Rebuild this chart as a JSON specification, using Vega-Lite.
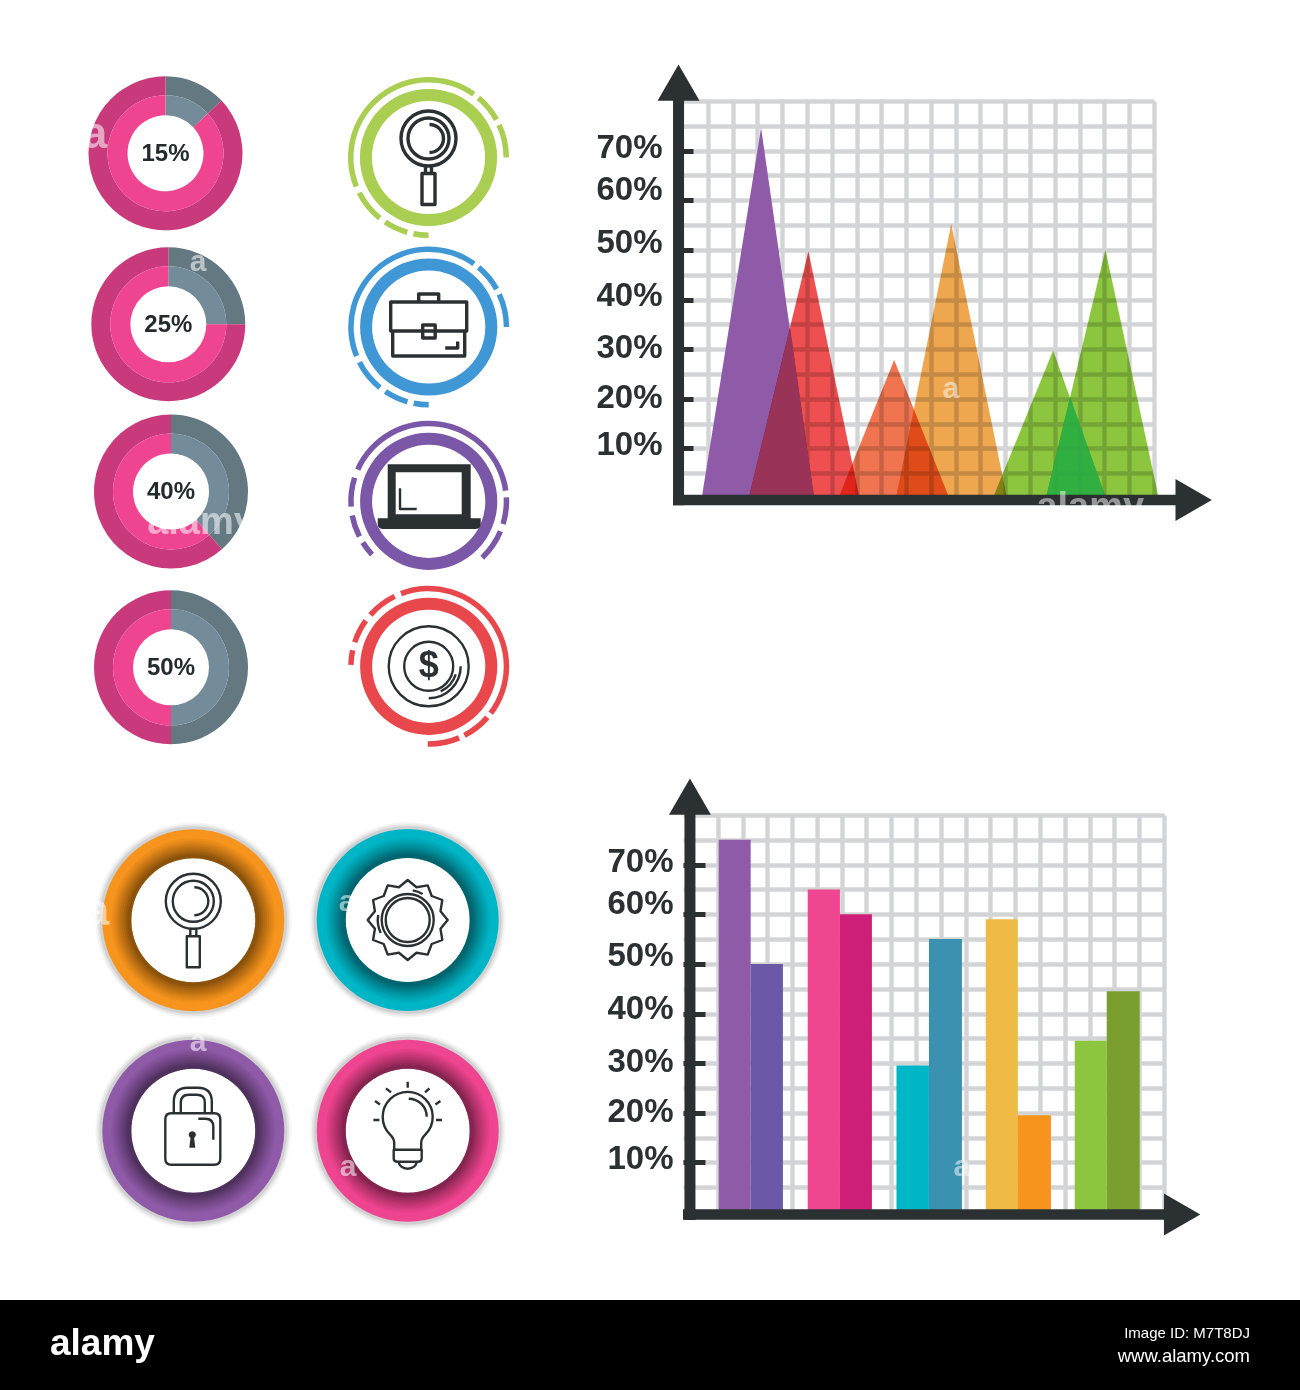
{
"$schema":"https://vega.github.io/schema/vega-lite/v6.json",
"padding":0,
"background":"#ffffff",
"spacing":0,
"bounds":"flush",
"columns":2,
"align":"each",
"resolve":{"scale":{"color":"independent","shape":"independent"}},
"config":{"view":{"stroke":null},"concat":{"spacing":0},"text":{"font":"Liberation Sans"}},
"datasets":{
"donuts":[{"label":"15%","x":16.55,"y":15.4},{"label":"25%","x":16.83,"y":32.5},{"label":"40%","x":17.1,"y":49.2},{"label":"50%","x":17.1,"y":66.8}],
"segments":[
{"donut":"15%","seg":"share","x":16.55,"y":15.33,"start":0,"end":13},{"donut":"15%","seg":"rest","x":16.55,"y":15.33,"start":13,"end":100},
{"donut":"25%","seg":"share","x":16.83,"y":32.43,"start":0,"end":25},{"donut":"25%","seg":"rest","x":16.83,"y":32.43,"start":25,"end":100},
{"donut":"40%","seg":"share","x":17.1,"y":49.15,"start":0,"end":38.5},{"donut":"40%","seg":"rest","x":17.1,"y":49.15,"start":38.5,"end":100},
{"donut":"50%","seg":"share","x":17.1,"y":66.73,"start":0,"end":50},{"donut":"50%","seg":"rest","x":17.1,"y":66.73,"start":50,"end":100}],
"rings":[{"topic":"green","x":42.85,"y":15.75,"start":0,"end":100},{"topic":"blue","x":42.87,"y":32.7,"start":0,"end":100},{"topic":"violet","x":42.87,"y":50.13,"start":0,"end":100},{"topic":"red","x":42.87,"y":66.63,"start":0,"end":100}],
"dashes":[
{"topic":"green","x":42.85,"y":15.75,"start":-31.1,"end":9.9},{"topic":"green","x":42.85,"y":15.75,"start":11.1,"end":16.9},{"topic":"green","x":42.85,"y":15.75,"start":18.1,"end":25},{"topic":"green","x":42.85,"y":15.75,"start":50,"end":53.1},{"topic":"green","x":42.85,"y":15.75,"start":54.4,"end":59.4},{"topic":"green","x":42.85,"y":15.75,"start":60.8,"end":67.5},
{"topic":"blue","x":42.87,"y":32.7,"start":-31.1,"end":9.9},{"topic":"blue","x":42.87,"y":32.7,"start":11.1,"end":16.9},{"topic":"blue","x":42.87,"y":32.7,"start":18.1,"end":25},{"topic":"blue","x":42.87,"y":32.7,"start":50,"end":53.1},{"topic":"blue","x":42.87,"y":32.7,"start":54.4,"end":59.4},{"topic":"blue","x":42.87,"y":32.7,"start":60.8,"end":67.5},
{"topic":"violet","x":42.87,"y":50.13,"start":-18.3,"end":22.8},{"topic":"violet","x":42.87,"y":50.13,"start":24.2,"end":29.7},{"topic":"violet","x":42.87,"y":50.13,"start":31.3,"end":37.9},{"topic":"violet","x":42.87,"y":50.13,"start":63,"end":66.1},{"topic":"violet","x":42.87,"y":50.13,"start":67.5,"end":72.1},{"topic":"violet","x":42.87,"y":50.13,"start":73.9,"end":79.9},
{"topic":"red","x":42.87,"y":66.63,"start":-5.8,"end":35.3},{"topic":"red","x":42.87,"y":66.63,"start":36.4,"end":42.4},{"topic":"red","x":42.87,"y":66.63,"start":43.6,"end":50.2},{"topic":"red","x":42.87,"y":66.63,"start":-13.5,"end":-7.2},{"topic":"red","x":42.87,"y":66.63,"start":-20,"end":-15},{"topic":"red","x":42.87,"y":66.63,"start":-24.7,"end":-21.7}],
"circles":[{"topic":"orange","x":19.33,"y":92.03},{"topic":"teal","x":40.77,"y":92},{"topic":"purple","x":19.33,"y":113.07},{"topic":"pink","x":40.77,"y":113.07}],
"icons":[{"icon":"lens","x":42.85,"y":15.75},{"icon":"case","x":42.87,"y":32.7},{"icon":"laptop","x":42.87,"y":50.13},{"icon":"coin","x":42.87,"y":66.63},{"icon":"lens","x":19.33,"y":92.03},{"icon":"gear","x":40.77,"y":92},{"icon":"lock","x":19.33,"y":113.07},{"icon":"bulb","x":40.77,"y":113.07}],
"marks":[{"t":"alamy","x":20.1,"y":52.3,"s":38},{"t":"a","x":19.8,"y":26.2,"s":30},{"t":"a","x":9.5,"y":13.5,"s":44},{"t":"a","x":19.8,"y":104.2,"s":30},{"t":"a","x":34.7,"y":90.2,"s":30},{"t":"a","x":34.8,"y":116.7,"s":30},{"t":"a","x":9.7,"y":91.2,"s":44}],
"footer":[{"t":"alamy","x":5,"y":134.4,"s":37,"a":"left"},{"t":"Image ID: M7T8DJ","x":125,"y":133.3,"s":15,"a":"right"},{"t":"www.alamy.com","x":125,"y":135.6,"s":18.5,"a":"right"}],
"peaks":[
{"peak":"purple","x":0.755,"y":0},{"peak":"purple","x":3.15,"y":74.6},{"peak":"purple","x":5.29,"y":0},
{"peak":"red","x":2.65,"y":0},{"peak":"red","x":5.06,"y":49.7},{"peak":"red","x":7.12,"y":0},
{"peak":"coral","x":6.27,"y":0},{"peak":"coral","x":8.52,"y":27.8},{"peak":"coral","x":10.74,"y":0},
{"peak":"amber","x":8.59,"y":0},{"peak":"amber","x":10.82,"y":55.2},{"peak":"amber","x":13.07,"y":0},
{"peak":"green1","x":12.5,"y":0},{"peak":"green1","x":14.93,"y":29.7},{"peak":"green1","x":17.06,"y":0},
{"peak":"green2","x":14.64,"y":0},{"peak":"green2","x":17.04,"y":50},{"peak":"green2","x":19.19,"y":0},
{"peak":"overlapA","x":2.65,"y":0},{"peak":"overlapA","x":4.32,"y":34.3},{"peak":"overlapA","x":5.29,"y":0},
{"peak":"overlapB","x":14.64,"y":0},{"peak":"overlapB","x":15.62,"y":20.4},{"peak":"overlapB","x":17.06,"y":0}],
"bars":[
{"series":"a1","x":1.04,"x2":2.33,"v":75},{"series":"a2","x":2.33,"x2":3.63,"v":50},
{"series":"b1","x":4.63,"x2":5.93,"v":65},{"series":"b2","x":5.93,"x2":7.22,"v":60},
{"series":"c1","x":8.21,"x2":9.52,"v":29.5},{"series":"c2","x":9.52,"x2":10.85,"v":55},
{"series":"d1","x":11.81,"x2":13.1,"v":59},{"series":"d2","x":13.1,"x2":14.44,"v":19.5},
{"series":"e1","x":15.4,"x2":16.69,"v":34.5},{"series":"e2","x":16.69,"x2":18.02,"v":44.5}]
},
"concat":[
{"width":683,"height":101,
 "encoding":{"x":{"field":"x","type":"quantitative","scale":{"domain":[0,68.3]},"axis":null},"y":{"field":"y","type":"quantitative","scale":{"domain":[10.1,0]},"axis":null}},
 "layer":[
 {"data":{"values":[{"x":0,"x2":130,"y":130,"y2":139}]},"mark":{"type":"rect","color":"#000000"},"encoding":{"x2":{"field":"x2"},"y2":{"field":"y2"}}},
 {"data":{"name":"footer"},"transform":[{"filter":"datum.a=='left'"}],"mark":{"type":"text","align":"left","color":"#ffffff","fontWeight":"bold"},"encoding":{"text":{"field":"t"},"size":{"field":"s","type":"quantitative","scale":null}}},
 {"data":{"name":"footer"},"transform":[{"filter":"datum.a=='right'"}],"mark":{"type":"text","align":"right","color":"#ffffff"},"encoding":{"text":{"field":"t"},"size":{"field":"s","type":"quantitative","scale":null}}},
 {"data":{"name":"segments"},"mark":{"type":"arc","radius":77,"radius2":58},"encoding":{"theta":{"field":"start","type":"quantitative","stack":null,"scale":{"domain":[0,100],"range":[0,6.28319]}},"theta2":{"field":"end"},"color":{"condition":{"test":"datum.seg=='share'","value":"#647882"},"value":"#C93A7D"}}},
 {"data":{"name":"segments"},"mark":{"type":"arc","radius":58,"radius2":38},"encoding":{"theta":{"field":"start","type":"quantitative","stack":null},"theta2":{"field":"end"},"color":{"condition":{"test":"datum.seg=='share'","value":"#748B99"},"value":"#EF4490"}}},
 {"data":{"name":"donuts"},"mark":{"type":"text","fontSize":24,"fontWeight":"bold","color":"#232B2E"},"encoding":{"text":{"field":"label"}}},
 {"data":{"name":"dashes"},"mark":{"type":"arc","radius":80.5,"radius2":75},"encoding":{"theta":{"field":"start","type":"quantitative","stack":null},"theta2":{"field":"end"},"color":{"field":"topic","type":"nominal","legend":null,"scale":{"domain":["green","blue","violet","red","orange","teal","purple","pink"],"range":["#A9CE52","#3F97D5","#7B57A8","#E8474C","#F7941D","#00B5C5","#8F5AA8","#EF4490"]}}}},
 {"data":{"name":"rings"},"mark":{"type":"arc","radius":68.6,"radius2":56.6},"encoding":{"theta":{"field":"start","type":"quantitative","stack":null},"theta2":{"field":"end"},"color":{"field":"topic","type":"nominal","legend":null}}},
 {"data":{"name":"circles"},"mark":{"type":"arc","radius":98,"radius2":62,"theta":0,"theta2":6.28319,"color":"#000000","opacity":0.04}},
 {"data":{"name":"circles"},"mark":{"type":"arc","radius":96,"radius2":62,"theta":0,"theta2":6.28319,"color":"#000000","opacity":0.06}},
 {"data":{"name":"circles"},"mark":{"type":"arc","radius":94,"radius2":62,"theta":0,"theta2":6.28319,"color":"#000000","opacity":0.09}},
 {"data":{"name":"circles"},"mark":{"type":"arc","radius":91,"radius2":62,"theta":0,"theta2":6.28319},"encoding":{"color":{"field":"topic","type":"nominal","legend":null}}},
 {"data":{"name":"circles"},"mark":{"type":"arc","radius":82,"radius2":62,"theta":0,"theta2":6.28319,"color":"#000000","opacity":0.04}},
 {"data":{"name":"circles"},"mark":{"type":"arc","radius":80,"radius2":62,"theta":0,"theta2":6.28319,"color":"#000000","opacity":0.04}},
 {"data":{"name":"circles"},"mark":{"type":"arc","radius":78,"radius2":62,"theta":0,"theta2":6.28319,"color":"#000000","opacity":0.05}},
 {"data":{"name":"circles"},"mark":{"type":"arc","radius":76,"radius2":62,"theta":0,"theta2":6.28319,"color":"#000000","opacity":0.05}},
 {"data":{"name":"circles"},"mark":{"type":"arc","radius":74,"radius2":62,"theta":0,"theta2":6.28319,"color":"#000000","opacity":0.06}},
 {"data":{"name":"circles"},"mark":{"type":"arc","radius":72,"radius2":62,"theta":0,"theta2":6.28319,"color":"#000000","opacity":0.06}},
 {"data":{"name":"circles"},"mark":{"type":"arc","radius":70,"radius2":62,"theta":0,"theta2":6.28319,"color":"#000000","opacity":0.07}},
 {"data":{"name":"circles"},"mark":{"type":"arc","radius":68,"radius2":62,"theta":0,"theta2":6.28319,"color":"#000000","opacity":0.08}},
 {"data":{"name":"circles"},"mark":{"type":"arc","radius":66,"radius2":62,"theta":0,"theta2":6.28319,"color":"#000000","opacity":0.09}},
 {"data":{"name":"icons"},"transform":[{"filter":"datum.icon=='laptop'"}],"mark":{"type":"point","size":4,"filled":true,"opacity":1,"color":"#2B3133","strokeWidth":0,"shape":"M-41 -37 H42 V17 H-41 Z M-33 -29 V13 H33 V-29 Z M-51 17 H52 V22 Q52 27.7 47 27.7 H-46 Q-51 27.7 -51 22 Z"}},
 {"data":{"name":"icons"},"transform":[{"filter":"datum.icon=='lock'"}],"mark":{"type":"point","size":4,"filled":true,"opacity":1,"color":"#2B3133","strokeWidth":0,"shape":"M-1 0.5 A3.6 3.6 0 0 1 0.8 7.2 L2 17 H-4 L-2.8 7.2 A3.6 3.6 0 0 1 -1 0.5 Z"}},
 {"data":{"name":"icons"},"mark":{"type":"point","size":4,"filled":false,"opacity":1,"color":"#2B3133","strokeJoin":"round","strokeCap":"butt"},
  "encoding":{"strokeWidth":{"condition":[{"test":"datum.y<50 && datum.icon!='laptop'","value":3.4}],"value":2.4},
  "shape":{"field":"icon","type":"nominal","legend":null,"scale":{"domain":["lens","case","laptop","coin","gear","lock","bulb"],"range":[
   "M-27.5 -19 A27.5 27.5 0 1 1 27.5 -19 A27.5 27.5 0 1 1 -27.5 -19 Z M-20.5 -19 A20.5 20.5 0 1 1 20.5 -19 A20.5 20.5 0 1 1 -20.5 -19 Z M1 -33 A14 14 0 0 1 1 -5 M-3 8.5 V16 M3 8.5 V16 M-6.5 16 H6.5 V47 H-6.5 Z",
   "M-38 -25 H38 V4 H-38 Z M-36 4 V29 H36 V4 M-10 -25 V-33 H10 V-25 M-6 -2 H6.5 V11 H-6 Z M16.5 21 H29 V14.5",
   "M-28.7 -13 V7.7 H-12",
   "M-40 0 A40 40 0 1 1 40 0 A40 40 0 1 1 -40 0 Z M-24.5 0 A24.5 24.5 0 1 1 24.5 0 A24.5 24.5 0 1 1 -24.5 0 Z M0 32 A32 32 0 0 0 32 0 M12 25 A28 28 0 0 0 27 8",
   "M0 -40 L8.8 -32.8 L20 -34.6 L24 -24 L34.6 -20 L32.8 -8.8 L40 0 L32.8 8.8 L34.6 20 L24 24 L20 34.6 L8.8 32.8 L0 40 L-8.8 32.8 L-20 34.6 L-24 24 L-34.6 20 L-32.8 8.8 L-40 0 L-32.8 -8.8 L-34.6 -20 L-24 -24 L-20 -34.6 L-8.8 -32.8 Z M-22 0 A22 22 0 1 1 22 0 A22 22 0 1 1 -22 0 Z M-26 0 A26 26 0 1 1 26 0 A26 26 0 1 1 -26 0 Z M5 -29.6 A30 30 0 0 1 15 -26 M-29.5 -5 A30 30 0 0 0 -27 13",
   "M-22 -17.5 H21 Q27 -17.5 27 -11.5 V28 Q27 34 21 34 H-22 Q-28 34 -28 28 V-11.5 Q-28 -17.5 -22 -17.5 Z M-19.5 -17.5 V-29 Q-19.5 -43 -5.5 -43 H4.5 Q18.5 -43 18.5 -29 V-17.5 M-12.5 -17.5 V-28 Q-12.5 -36 -4.5 -36 H3.5 Q11.5 -36 11.5 -28 V-17.5 M5 -12 H12 Q20 -12 20 -4 V9",
   "M-13.5 19 V12 Q-13.5 8 -18 3.5 A25 25 0 1 1 18 3.5 Q13.5 8 13.5 12 V19 M-14 19 H14 V28 Q14 31 10 31 H-10 Q-14 31 -14 28 Z M-9 31 A9 7 0 0 0 9 31 M1 -32 A18 18 0 0 1 19 -14 M0 -49 V-43 M-21.7 -42.3 L-16.7 -38.3 M21.7 -42.3 L17.3 -38.3 M-32.7 -29.7 L-27.7 -26.3 M32.7 -29.7 L27.7 -26.3 M-34.3 -10.7 H-28.3 M34.3 -10.7 H28.3"
  ]}}}},
 {"data":{"name":"icons"},"transform":[{"filter":"datum.icon=='coin'"}],"mark":{"type":"text","text":"$","fontWeight":"bold","fontSize":36,"color":"#2B3133"}},
 {"data":{"name":"marks"},"mark":{"type":"text","fontWeight":"bold","color":"#ffffff","opacity":0.55},"encoding":{"text":{"field":"t"},"size":{"field":"s","type":"quantitative","scale":null}}}
 ]},
{"width":481,"height":101,"data":{"values":[{"a":1}]},"mark":{"type":"point","opacity":0}},
{"width":683,"height":397,"data":{"values":[{"a":1}]},"mark":{"type":"point","opacity":0}},
{"width":471,"height":397,
   "encoding":{"x":{"field":"x","type":"quantitative","scale":{"domain":[0,19]},"axis":{"values":[1,2,3,4,5,6,7,8,9,10,11,12,13,14,15,16,17,18,19],"grid":true,"gridColor":"#D3D4D6","gridWidth":4.4,"labels":false,"ticks":false,"domain":false,"title":null}},
   "y":{"field":"y","type":"quantitative","stack":null,"scale":{"domain":[0,80]},"axis":{"values":[5,10,15,20,25,30,35,40,45,50,55,60,65,70,75,80],"grid":true,"gridColor":"#D3D4D6","gridWidth":4.4,"domain":false,"title":null,"tickColor":"#2B3133","tickWidth":5,"tickSize":-10,"tickOpacity":{"condition":{"test":"datum.value%10==0 && datum.value<80","value":1},"value":0},"labelExpr":"datum.value%10==0 && datum.value<80 ? datum.value+'%' : ''","labelFont":"Liberation Sans","labelFontWeight":"bold","labelFontSize":33,"labelColor":"#2B3133","labelPadding":31,"labelOverlap":false,"labelBound":false,"labelFlush":false,"labelOffset":{"condition":[{"test":"datum.value==70","value":-3},{"test":"datum.value==60","value":-11},{"test":"datum.value==50","value":-7},{"test":"datum.value==30","value":-2},{"test":"datum.value==20","value":-1}],"value":-4}}}},
   "layer":[
   {"data":{"name":"peaks"},"transform":[{"filter":"datum.peak=='purple'"}],"mark":{"type":"area","color":"#8F5AA8","opacity":1}},
   {"data":{"name":"peaks"},"transform":[{"filter":"datum.peak=='red'"}],"mark":{"type":"area","color":"#EE4F50","opacity":1,"blend":"multiply"}},
   {"data":{"name":"peaks"},"transform":[{"filter":"datum.peak=='overlapA'"}],"mark":{"type":"area","color":"#9A3358","opacity":1}},
   {"data":{"name":"peaks"},"transform":[{"filter":"datum.peak=='coral'"}],"mark":{"type":"area","color":"#F0744F","opacity":1,"blend":"multiply"}},
   {"data":{"name":"peaks"},"transform":[{"filter":"datum.peak=='amber'"}],"mark":{"type":"area","color":"#EEA64F","opacity":1,"blend":"multiply"}},
   {"data":{"name":"peaks"},"transform":[{"filter":"datum.peak=='green1'"}],"mark":{"type":"area","color":"#8CC63F","opacity":1,"blend":"multiply"}},
   {"data":{"name":"peaks"},"transform":[{"filter":"datum.peak=='green2'"}],"mark":{"type":"area","color":"#8CC63F","opacity":1,"blend":"multiply"}},
   {"data":{"name":"peaks"},"transform":[{"filter":"datum.peak=='overlapB'"}],"mark":{"type":"area","color":"#2DB34A","opacity":0.85}},
   {"data":{"values":[{"x":-0.18,"y":83.7}]},"mark":{"type":"point","shape":"triangle-up","size":1764,"filled":true,"opacity":1,"color":"#2B3133","strokeWidth":0}},
   {"data":{"values":[{"x":20.6,"y":-0.4}]},"mark":{"type":"point","shape":"triangle-right","size":1764,"filled":true,"opacity":1,"color":"#2B3133","strokeWidth":0}},
   {"data":{"values":[{"x":-0.18,"y":-1.47,"y2":81}]},"mark":{"type":"rule","color":"#2B3133","strokeWidth":11},"encoding":{"y2":{"field":"y2"}}},
   {"data":{"values":[{"x":-0.4,"x2":20,"y":-0.4}]},"mark":{"type":"rule","color":"#2B3133","strokeWidth":10.6},"encoding":{"x2":{"field":"x2"}}},
   {"data":{"values":[{"t":"a","x":10.8,"y":22,"s":30},{"t":"alamy","x":16.43,"y":-2,"s":38}]},"mark":{"type":"text","fontWeight":"bold","color":"#ffffff","opacity":0.5},"encoding":{"text":{"field":"t"},"size":{"field":"s","type":"quantitative","scale":null}}}
   ]},
{"width":683,"height":317,"data":{"values":[{"a":1}]},"mark":{"type":"point","opacity":0}},
{"width":481,"height":317,"data":{"values":[{"a":1}]},"mark":{"type":"point","opacity":0}},
{"width":683,"height":397,"data":{"values":[{"a":1}]},"mark":{"type":"point","opacity":0}},
{"width":481,"height":397,
   "encoding":{"x":{"field":"x","type":"quantitative","scale":{"domain":[-0.4,19]},"axis":{"values":[1,2,3,4,5,6,7,8,9,10,11,12,13,14,15,16,17,18,19],"grid":true,"gridColor":"#D3D4D6","gridWidth":4.4,"labels":false,"ticks":false,"domain":false,"title":null}},
   "y":{"field":"y","type":"quantitative","stack":null,"scale":{"domain":[0,80]},"axis":{"values":[5,10,15,20,25,30,35,40,45,50,55,60,65,70,75,80],"grid":true,"gridColor":"#D3D4D6","gridWidth":4.4,"domain":false,"title":null,"tickColor":"#2B3133","tickWidth":5,"tickSize":-22,"tickOpacity":{"condition":{"test":"datum.value%10==0 && datum.value<80","value":1},"value":0},"labelExpr":"datum.value%10==0 && datum.value<80 ? datum.value+'%' : ''","labelFont":"Liberation Sans","labelFontWeight":"bold","labelFontSize":33,"labelColor":"#2B3133","labelPadding":32,"labelOverlap":false,"labelBound":false,"labelFlush":false,"labelOffset":{"condition":[{"test":"datum.value==70","value":-3},{"test":"datum.value==60","value":-11},{"test":"datum.value==50","value":-8},{"test":"datum.value==40","value":-5},{"test":"datum.value==30","value":-2},{"test":"datum.value==20","value":-1}],"value":-4}}}},
   "layer":[
   {"data":{"name":"bars"},"mark":{"type":"bar"},"encoding":{"x2":{"field":"x2"},"y":{"field":"v","type":"quantitative","stack":null},"y2":{"datum":0},"color":{"field":"series","type":"nominal","legend":null,"scale":{"domain":["a1","a2","b1","b2","c1","c2","d1","d2","e1","e2"],"range":["#8F5AA8","#6B58A6","#F0458F","#CE1F78","#00B7C8","#3A91B0","#EFBA43","#F7941D","#8CC63F","#7A9F2F"]}}}},
   {"data":{"values":[{"x":-0.12,"y":83.7}]},"mark":{"type":"point","shape":"triangle-up","size":1764,"filled":true,"opacity":1,"color":"#2B3133","strokeWidth":0}},
   {"data":{"values":[{"x":19.73,"y":-0.5}]},"mark":{"type":"point","shape":"triangle-right","size":1764,"filled":true,"opacity":1,"color":"#2B3133","strokeWidth":0}},
   {"data":{"values":[{"x":-0.12,"y":-1.6,"y2":81}]},"mark":{"type":"rule","color":"#2B3133","strokeWidth":11},"encoding":{"y2":{"field":"y2"}}},
   {"data":{"values":[{"x":-0.4,"x2":19.2,"y":-0.5}]},"mark":{"type":"rule","color":"#2B3133","strokeWidth":10.6},"encoding":{"x2":{"field":"x2"}}},
   {"data":{"values":[{"t":"a","x":10.85,"y":9,"s":30}]},"mark":{"type":"text","fontWeight":"bold","color":"#ffffff","opacity":0.5},"encoding":{"text":{"field":"t"},"size":{"field":"s","type":"quantitative","scale":null}}}
   ]}
]
}
